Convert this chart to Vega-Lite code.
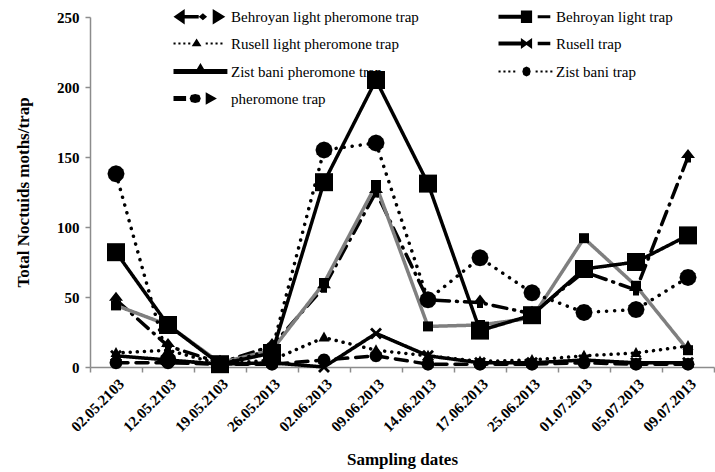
{
  "$schema": "https://vega.github.io/schema/vega-lite/v6.json",
  "width": 624,
  "height": 350,
  "autosize": {"type": "none"},
  "padding": {"left": 90, "top": 17, "right": 1, "bottom": 105},
  "background": "white",
  "config": {
    "view": {"stroke": null},
    "font": "Liberation Serif"
  },
  "data": {
    "values": [
      {"date": "02.05.2103", "series": "Behroyan light  pheromone trap", "value": 48},
      {"date": "12.05.2103", "series": "Behroyan light  pheromone trap", "value": 15},
      {"date": "19.05.2103", "series": "Behroyan light  pheromone trap", "value": 3},
      {"date": "26.05.2013", "series": "Behroyan light  pheromone trap", "value": 15},
      {"date": "02.06.2013", "series": "Behroyan light  pheromone trap", "value": 57},
      {"date": "09.06.2013", "series": "Behroyan light  pheromone trap", "value": 125},
      {"date": "14.06.2013", "series": "Behroyan light  pheromone trap", "value": 48},
      {"date": "17.06.2013", "series": "Behroyan light  pheromone trap", "value": 46},
      {"date": "25.06.2013", "series": "Behroyan light  pheromone trap", "value": 38},
      {"date": "01.07.2013", "series": "Behroyan light  pheromone trap", "value": 68},
      {"date": "05.07.2013", "series": "Behroyan light  pheromone trap", "value": 55},
      {"date": "09.07.2013", "series": "Behroyan light  pheromone trap", "value": 150},
      {"date": "02.05.2103", "series": "Behroyan light trap", "value": 44},
      {"date": "12.05.2103", "series": "Behroyan light trap", "value": 30},
      {"date": "19.05.2103", "series": "Behroyan light trap", "value": 3},
      {"date": "26.05.2013", "series": "Behroyan light trap", "value": 12},
      {"date": "02.06.2013", "series": "Behroyan light trap", "value": 60},
      {"date": "09.06.2013", "series": "Behroyan light trap", "value": 130},
      {"date": "14.06.2013", "series": "Behroyan light trap", "value": 29},
      {"date": "17.06.2013", "series": "Behroyan light trap", "value": 30},
      {"date": "25.06.2013", "series": "Behroyan light trap", "value": 35},
      {"date": "01.07.2013", "series": "Behroyan light trap", "value": 92},
      {"date": "05.07.2013", "series": "Behroyan light trap", "value": 58},
      {"date": "09.07.2013", "series": "Behroyan light trap", "value": 12},
      {"date": "02.05.2103", "series": "Rusell light pheromone trap", "value": 10},
      {"date": "12.05.2103", "series": "Rusell light pheromone trap", "value": 12},
      {"date": "19.05.2103", "series": "Rusell light pheromone trap", "value": 2},
      {"date": "26.05.2013", "series": "Rusell light pheromone trap", "value": 5},
      {"date": "02.06.2013", "series": "Rusell light pheromone trap", "value": 21},
      {"date": "09.06.2013", "series": "Rusell light pheromone trap", "value": 12},
      {"date": "14.06.2013", "series": "Rusell light pheromone trap", "value": 8},
      {"date": "17.06.2013", "series": "Rusell light pheromone trap", "value": 4},
      {"date": "25.06.2013", "series": "Rusell light pheromone trap", "value": 5},
      {"date": "01.07.2013", "series": "Rusell light pheromone trap", "value": 8},
      {"date": "05.07.2013", "series": "Rusell light pheromone trap", "value": 10},
      {"date": "09.07.2013", "series": "Rusell light pheromone trap", "value": 15},
      {"date": "02.05.2103", "series": "Rusell  trap", "value": 8},
      {"date": "12.05.2103", "series": "Rusell  trap", "value": 5},
      {"date": "19.05.2103", "series": "Rusell  trap", "value": 2},
      {"date": "26.05.2013", "series": "Rusell  trap", "value": 3},
      {"date": "02.06.2013", "series": "Rusell  trap", "value": 0},
      {"date": "09.06.2013", "series": "Rusell  trap", "value": 24},
      {"date": "14.06.2013", "series": "Rusell  trap", "value": 8},
      {"date": "17.06.2013", "series": "Rusell  trap", "value": 3},
      {"date": "25.06.2013", "series": "Rusell  trap", "value": 3},
      {"date": "01.07.2013", "series": "Rusell  trap", "value": 5},
      {"date": "05.07.2013", "series": "Rusell  trap", "value": 3},
      {"date": "09.07.2013", "series": "Rusell  trap", "value": 3},
      {"date": "02.05.2103", "series": "Zist bani pheromone trap", "value": 82},
      {"date": "12.05.2103", "series": "Zist bani pheromone trap", "value": 30},
      {"date": "19.05.2103", "series": "Zist bani pheromone trap", "value": 2},
      {"date": "26.05.2013", "series": "Zist bani pheromone trap", "value": 10},
      {"date": "02.06.2013", "series": "Zist bani pheromone trap", "value": 132},
      {"date": "09.06.2013", "series": "Zist bani pheromone trap", "value": 205},
      {"date": "14.06.2013", "series": "Zist bani pheromone trap", "value": 131},
      {"date": "17.06.2013", "series": "Zist bani pheromone trap", "value": 26},
      {"date": "25.06.2013", "series": "Zist bani pheromone trap", "value": 37},
      {"date": "01.07.2013", "series": "Zist bani pheromone trap", "value": 70},
      {"date": "05.07.2013", "series": "Zist bani pheromone trap", "value": 75},
      {"date": "09.07.2013", "series": "Zist bani pheromone trap", "value": 94},
      {"date": "02.05.2103", "series": "Zist bani trap", "value": 138},
      {"date": "12.05.2103", "series": "Zist bani trap", "value": 5},
      {"date": "19.05.2103", "series": "Zist bani trap", "value": 2},
      {"date": "26.05.2013", "series": "Zist bani trap", "value": 12},
      {"date": "02.06.2013", "series": "Zist bani trap", "value": 155},
      {"date": "09.06.2013", "series": "Zist bani trap", "value": 160},
      {"date": "14.06.2013", "series": "Zist bani trap", "value": 48},
      {"date": "17.06.2013", "series": "Zist bani trap", "value": 78},
      {"date": "25.06.2013", "series": "Zist bani trap", "value": 53},
      {"date": "01.07.2013", "series": "Zist bani trap", "value": 39},
      {"date": "05.07.2013", "series": "Zist bani trap", "value": 41},
      {"date": "09.07.2013", "series": "Zist bani trap", "value": 64},
      {"date": "02.05.2103", "series": " pheromone trap", "value": 3},
      {"date": "12.05.2103", "series": " pheromone trap", "value": 3},
      {"date": "19.05.2103", "series": " pheromone trap", "value": 2},
      {"date": "26.05.2013", "series": " pheromone trap", "value": 2},
      {"date": "02.06.2013", "series": " pheromone trap", "value": 5},
      {"date": "09.06.2013", "series": " pheromone trap", "value": 8},
      {"date": "14.06.2013", "series": " pheromone trap", "value": 2},
      {"date": "17.06.2013", "series": " pheromone trap", "value": 2},
      {"date": "25.06.2013", "series": " pheromone trap", "value": 2},
      {"date": "01.07.2013", "series": " pheromone trap", "value": 3},
      {"date": "05.07.2013", "series": " pheromone trap", "value": 2},
      {"date": "09.07.2013", "series": " pheromone trap", "value": 2}
    ]
  },
  "encoding": {
    "x": {
      "field": "date", "type": "nominal", "sort": null,
      "scale": {"paddingInner": 0, "paddingOuter": 0},
      "axis": {
        "title": "Sampling dates", "labelAngle": -45, "tickBand": "extent",
        "domainColor": "#8c8c8c", "domainWidth": 1.5, "tickColor": "#8c8c8c", "tickWidth": 1.5, "tickSize": 5,
        "labelFont": "Liberation Serif", "labelFontWeight": "bold", "labelFontSize": 15, "labelColor": "black",
        "labelPadding": 4,
        "titleFont": "Liberation Serif", "titleFontSize": 17, "titleFontWeight": "bold", "titleColor": "black",
        "titleY": 84, "titleBaseline": "top"
      }
    },
    "y": {
      "field": "value", "type": "quantitative",
      "scale": {"domain": [0, 250], "nice": false},
      "axis": {
        "title": "Total Noctuids moths/trap", "values": [0, 50, 100, 150, 200, 250], "grid": false,
        "domainColor": "#8c8c8c", "domainWidth": 1.5, "tickColor": "#8c8c8c", "tickWidth": 1.5, "tickSize": 5,
        "labelFont": "Liberation Serif", "labelFontWeight": "bold", "labelFontSize": 15, "labelColor": "black",
        "labelPadding": 6,
        "titleFont": "Liberation Serif", "titleFontSize": 17, "titleFontWeight": "bold", "titleColor": "black",
        "titlePadding": 24
      }
    }
  },
  "layer": [
    {
      "mark": {"type": "line", "strokeWidth": 3.5, "strokeCap": "round"},
      "encoding": {
        "detail": {"field": "series"},
        "color": {
          "field": "series", "type": "nominal", "legend": null,
          "scale": {
            "domain": ["Behroyan light  pheromone trap", "Rusell light pheromone trap", "Zist bani pheromone trap", " pheromone trap", "Behroyan light trap", "Rusell  trap", "Zist bani trap"],
            "range": ["black", "black", "black", "black", "#7f7f7f", "black", "black"]
          }
        },
        "strokeDash": {
          "field": "series", "type": "nominal", "legend": null,
          "scale": {
            "domain": ["Behroyan light  pheromone trap", "Rusell light pheromone trap", "Zist bani pheromone trap", " pheromone trap", "Behroyan light trap", "Rusell  trap", "Zist bani trap"],
            "range": [[14, 7, 1, 7], [0.1, 7], [1, 0], [12, 8], [1, 0], [1, 0], [0.1, 8]]
          }
        }
      }
    },
    {
      "mark": {"type": "point", "filled": true, "color": "black", "size": 100, "opacity": 1},
      "encoding": {
        "shape": {
          "field": "series", "type": "nominal", "legend": null,
          "scale": {
            "domain": ["Behroyan light  pheromone trap", "Rusell light pheromone trap", "Zist bani pheromone trap", " pheromone trap", "Behroyan light trap", "Rusell  trap", "Zist bani trap"],
            "range": [
              "M0,-1.6L1.4,0.2L0.6,0.2L0.6,1.1L-0.6,1.1L-0.6,0.2L-1.4,0.2Z",
              "M0,-1.2L1.1,0.8L-1.1,0.8Z",
              "M-1.8,-1.8H1.8V1.8H-1.8Z",
              "M1.3,0L1.126,0.65L0.65,1.126L0,1.3L-0.65,1.126L-1.126,0.65L-1.3,0L-1.126,-0.65L-0.65,-1.126L0,-1.3L0.65,-1.126L1.126,-0.65Z",
              "M-1,-1H1V1H-1Z",
              "M-1.2,-0.8L-0.8,-1.2L0,-0.4L0.8,-1.2L1.2,-0.8L0.4,0L1.2,0.8L0.8,1.2L0,0.4L-0.8,1.2L-1.2,0.8L-0.4,0Z",
              "M1.7,0L1.472,0.85L0.85,1.472L0,1.7L-0.85,1.472L-1.472,0.85L-1.7,0L-1.472,-0.85L-0.85,-1.472L0,-1.7L0.85,-1.472L1.472,-0.85Z"
            ]
          }
        }
      }
    },
    {
      "mark": {"type": "point", "filled": true, "size": 196, "opacity": 0},
      "encoding": {
        "fill": {
          "field": "series", "type": "nominal",
          "scale": {
            "domain": ["Behroyan light  pheromone trap", "Rusell light pheromone trap", "Zist bani pheromone trap", " pheromone trap", "Behroyan light trap", "Rusell  trap", "Zist bani trap"],
            "range": ["black", "black", "black", "black", "#555555", "black", "black"]
          },
          "legend": {
            "title": null, "orient": "none", "legendX": 83, "legendY": -8, "columns": 2,
            "columnPadding": 75, "rowPadding": 11, "symbolSize": 196, "symbolStrokeWidth": 0,
            "symbolOpacity": 1,
            "labelFont": "Liberation Serif", "labelFontSize": 15, "labelColor": "black", "labelOffset": 43,
            "labelLimit": 300, "padding": 0
          }
        },
        "shape": {
          "field": "series", "type": "nominal",
          "scale": {
            "domain": ["Behroyan light  pheromone trap", "Rusell light pheromone trap", "Zist bani pheromone trap", " pheromone trap", "Behroyan light trap", "Rusell  trap", "Zist bani trap"],
            "range": [
              "M-1,0L0.6,-1.1L0.6,1.1Z M0.6,-0.25H2.6V0.25H0.6Z M2.6,0L3.2,-0.5L3.8,0L3.2,0.5Z M4.6,-1.1L6.4,0L4.6,1.1Z",
              "M-1,-0.15h0.3v0.3h-0.3z M-0.3,-0.15h0.3v0.3h-0.3z M0.4,-0.15h0.3v0.3h-0.3z M1.1,-0.15h0.3v0.3h-0.3z M2.3,-0.7L3,0.4L1.6,0.4Z M3.6,-0.15h0.3v0.3h-0.3z M4.3,-0.15h0.3v0.3h-0.3z M5,-0.15h0.3v0.3h-0.3z M5.7,-0.15h0.3v0.3h-0.3z",
              "M-1,-0.35H6.7V0.35H-1Z M2,0.2L2.85,-1.2L3.7,0.2Z",
              "M-1,-0.35H0.8V0.35H-1Z M2.9,0L2.7,0.5L2.1,0.65L1.5,0.5L1.3,0L1.5,-0.5L2.1,-0.65L2.7,-0.5Z M3.6,-0.9L5.2,0L3.6,0.9Z",
              "M-1,-0.3H2.2V0.3H-1Z M2.2,-0.9H3.8V0.9H2.2Z M4.6,-0.2H6.4V0.2H4.6Z",
              "M-1,-0.3H2.4V0.3H-1Z M2.2,-0.8L3,-0.2L3.8,-0.8V0.8L3,0.2L2.2,0.8Z M4.6,-0.25H6.4V0.25H4.6Z",
              "M-1,-0.15h0.3v0.3h-0.3z M-0.3,-0.15h0.3v0.3h-0.3z M0.4,-0.15h0.3v0.3h-0.3z M1.1,-0.15h0.3v0.3h-0.3z M3.6,0L3.45,0.5L3,0.7L2.55,0.5L2.4,0L2.55,-0.5L3,-0.7L3.45,-0.5Z M4.3,-0.15h0.3v0.3h-0.3z M5,-0.15h0.3v0.3h-0.3z M5.7,-0.15h0.3v0.3h-0.3z M6.4,-0.15h0.3v0.3h-0.3z"
            ]
          },
          "legend": {
            "title": null, "orient": "none", "legendX": 83, "legendY": -8, "columns": 2,
            "columnPadding": 75, "rowPadding": 11, "symbolSize": 196, "symbolStrokeWidth": 0,
            "symbolOpacity": 1,
            "labelFont": "Liberation Serif", "labelFontSize": 15, "labelColor": "black", "labelOffset": 43,
            "labelLimit": 300, "padding": 0
          }
        }
      }
    }
  ],
  "resolve": {"scale": {"shape": "independent"}}
}
